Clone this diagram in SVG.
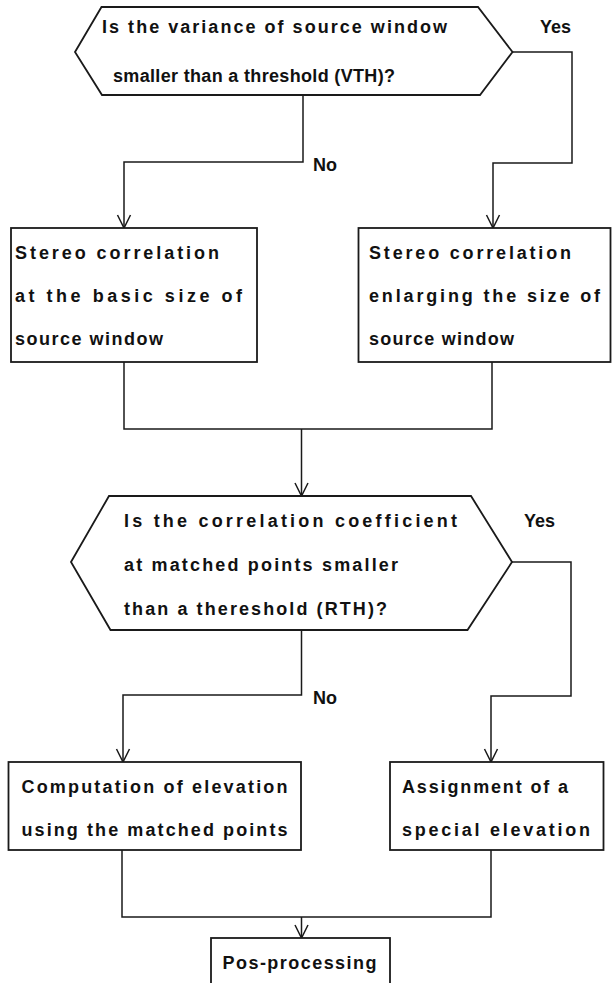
<svg xmlns="http://www.w3.org/2000/svg" width="612" height="983" viewBox="0 0 612 983">
<style>
.shape{fill:#fff;stroke:#1a1a1a;stroke-width:1.8}
.line{fill:none;stroke:#1a1a1a;stroke-width:1.5}
.arr{fill:none;stroke:#1a1a1a;stroke-width:1.5}
text{font-family:"Liberation Sans","DejaVu Sans",sans-serif;font-size:18px;font-weight:bold;fill:#111}
</style>
<rect width="612" height="983" fill="#fff"/>
<g id="connectors">
<polyline class="line" points="512.5,52 572,52 572,163 493,163 493,228"/>
<polyline class="arr" points="486.5,215 493,228 499.5,215"/>
<polyline class="line" points="303,95 303,162 124,162 124,228"/>
<polyline class="arr" points="117.5,215 124,228 130.5,215"/>
<polyline class="line" points="124,362 124,429 492,429 492,362"/>
<polyline class="line" points="301.5,429 301.5,496"/>
<polyline class="arr" points="295,483 301.5,496 308,483"/>
<polyline class="line" points="512,562 571,562 571,696 491,696 491,762"/>
<polyline class="arr" points="484.5,749 491,762 497.5,749"/>
<polyline class="line" points="301.5,630 301.5,695 123,695 123,762"/>
<polyline class="arr" points="116.5,749 123,762 129.5,749"/>
<polyline class="line" points="122,850 122,917 491,917 491,850"/>
<polyline class="line" points="301.5,917 301.5,938"/>
<polyline class="arr" points="295,925 301.5,938 308,925"/>
<text x="540" y="33">Yes</text>
<text x="313" y="171">No</text>
<text x="524" y="527">Yes</text>
<text x="313" y="704">No</text>
</g>
<g id="decision1">
<polygon class="shape" points="75,52 101.5,7 478,7 512.5,52 480,95 102,95"/>
<text x="102" y="33" textLength="345" lengthAdjust="spacing">Is the variance of source window</text>
<text x="113" y="82" textLength="282" lengthAdjust="spacing">smaller than a threshold (VTH)?</text>
</g>
<g id="box-basic">
<rect class="shape" x="11" y="228" width="246" height="134"/>
<text x="15" y="259" textLength="204" lengthAdjust="spacing">Stereo correlation</text>
<text x="15" y="302" textLength="227" lengthAdjust="spacing">at the basic size of</text>
<text x="15" y="345" textLength="148" lengthAdjust="spacing">source window</text>
</g>
<g id="box-enlarge">
<rect class="shape" x="358.5" y="228" width="252" height="134"/>
<text x="369" y="259" textLength="202" lengthAdjust="spacing">Stereo correlation</text>
<text x="369" y="302" textLength="231" lengthAdjust="spacing">enlarging the size of</text>
<text x="369" y="345" textLength="145" lengthAdjust="spacing">source window</text>
</g>
<g id="decision2">
<polygon class="shape" points="71,562 109,496 471,496 512,562 467.5,630 110.5,630"/>
<text x="124" y="527" textLength="333" lengthAdjust="spacing">Is the correlation coefficient</text>
<text x="124" y="571" textLength="274" lengthAdjust="spacing">at matched points smaller</text>
<text x="124" y="615" textLength="263" lengthAdjust="spacing">than a thereshold (RTH)?</text>
</g>
<g id="box-compute">
<rect class="shape" x="8.5" y="762" width="292.5" height="88"/>
<text x="21.5" y="793" textLength="266" lengthAdjust="spacing">Computation of elevation</text>
<text x="21.5" y="836" textLength="266" lengthAdjust="spacing">using the matched points</text>
</g>
<g id="box-assign">
<rect class="shape" x="390" y="762" width="213.5" height="88"/>
<text x="402" y="793" textLength="166" lengthAdjust="spacing">Assignment of a</text>
<text x="402" y="836" textLength="188" lengthAdjust="spacing">special elevation</text>
</g>
<g id="box-post">
<rect class="shape" x="211" y="938" width="179" height="60"/>
<text x="222.5" y="969" textLength="154" lengthAdjust="spacing">Pos-processing</text>
</g>
</svg>
